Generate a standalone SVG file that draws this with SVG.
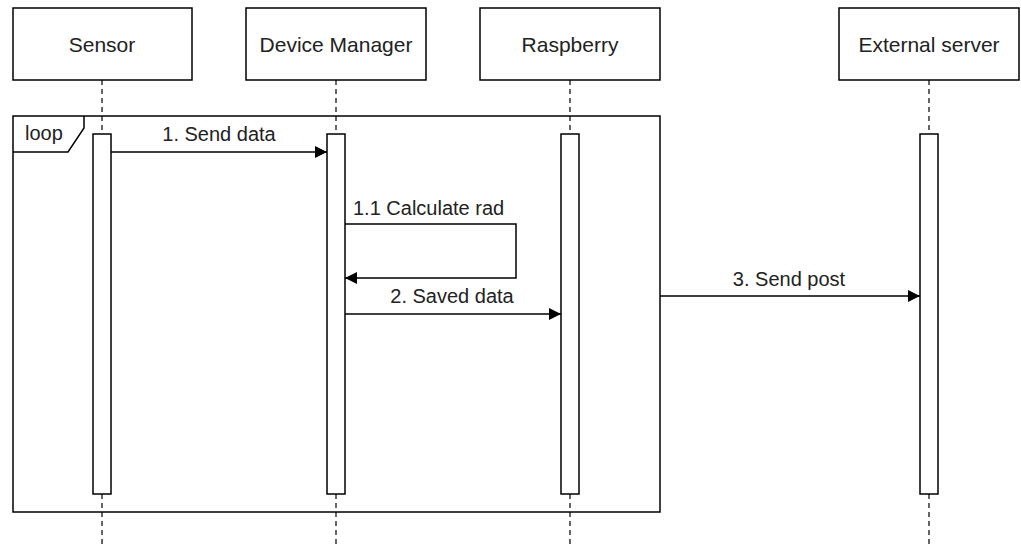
<svg xmlns="http://www.w3.org/2000/svg" width="1021" height="547" viewBox="0 0 1021 547">
<style>
.box{fill:#fff;stroke:#000;stroke-width:1.5}
.life{stroke:#000;stroke-width:1.2;stroke-dasharray:5,4;fill:none}
.msg{stroke:#000;stroke-width:1.5;fill:none}
text{font-family:"Liberation Sans",Arial,sans-serif;font-size:20px;fill:#222}
.h{font-size:21px}
.c{text-anchor:middle}
</style>
<defs>
<marker id="arr" viewBox="0 0 12 12" refX="12" refY="6" markerWidth="12" markerHeight="12" markerUnits="userSpaceOnUse" orient="auto">
<path d="M0,0 L12,6 L0,12 Z" fill="#000"/>
</marker>
</defs>
<rect width="1021" height="547" fill="#fff"/>
<g id="lifelines">
<line class="life" x1="102" y1="80" x2="102" y2="547"/>
<line class="life" x1="336" y1="80" x2="336" y2="547"/>
<line class="life" x1="570" y1="80" x2="570" y2="547"/>
<line class="life" x1="929" y1="80" x2="929" y2="547"/>
</g>
<g id="loop">
<rect x="13" y="116" width="647" height="396" fill="none" stroke="#000" stroke-width="1.5"/>
<path d="M13,152 L68,152 L84,128 L84,116" fill="none" stroke="#000" stroke-width="1.5"/>
<text x="25" y="140">loop</text>
</g>
<g id="sensor">
<rect class="box" x="13" y="8" width="179" height="72"/>
<text class="c h" x="102" y="52">Sensor</text>
<rect class="box" x="93" y="134" width="18" height="360"/>
</g>
<g id="device-manager">
<rect class="box" x="246" y="8" width="180" height="72"/>
<text class="c h" x="336" y="52">Device Manager</text>
<rect class="box" x="327" y="134" width="18" height="360"/>
</g>
<g id="raspberry">
<rect class="box" x="480" y="8" width="180" height="72"/>
<text class="c h" x="570" y="52">Raspberry</text>
<rect class="box" x="561" y="134" width="18" height="360"/>
</g>
<g id="external-server">
<rect class="box" x="839" y="8" width="180" height="72"/>
<text class="c h" x="929" y="52">External server</text>
<rect class="box" x="920" y="134" width="18" height="360"/>
</g>
<g id="connectors">
<line class="msg" x1="111" y1="152" x2="327" y2="152" marker-end="url(#arr)"/>
<text class="c" x="219" y="141">1. Send data</text>
<path class="msg" d="M345,224 L516,224 L516,278 L345,278" marker-end="url(#arr)"/>
<text x="353" y="215">1.1 Calculate rad</text>
<line class="msg" x1="345" y1="314" x2="561" y2="314" marker-end="url(#arr)"/>
<text class="c" x="452" y="303">2. Saved data</text>
<line class="msg" x1="660" y1="296" x2="920" y2="296" marker-end="url(#arr)"/>
<text class="c" x="789" y="286">3. Send post</text>
</g>
</svg>
